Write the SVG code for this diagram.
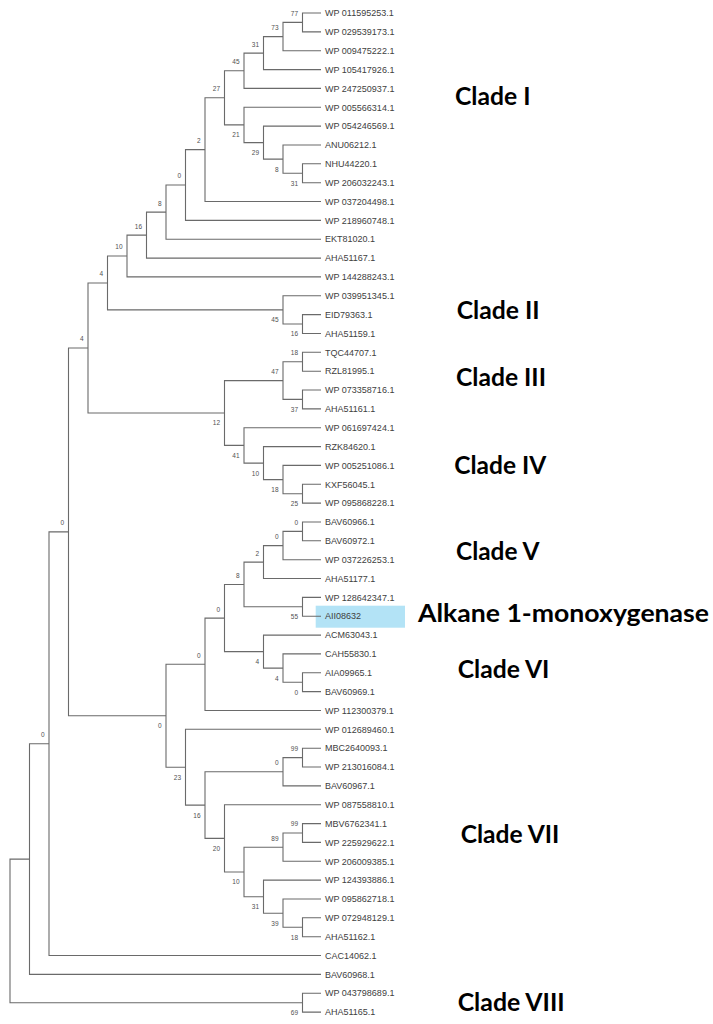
<svg xmlns="http://www.w3.org/2000/svg" width="713" height="1024" viewBox="0 0 713 1024">
<style>
.e{fill:none;stroke:#6a6a6a;stroke-width:1.1}
.lf{font-family:"Liberation Sans",Arial,sans-serif;font-size:9px;fill:#404040}
.bs{font-family:"Liberation Sans",Arial,sans-serif;font-size:6.5px;fill:#505050;text-anchor:end}
.cl{font-family:Lato,"Open Sans","Liberation Sans",sans-serif;font-weight:bold;font-size:24.4px;fill:#000}
</style>
<rect width="713" height="1024" fill="#fff"/>
<g id="highlight"><rect x="315.7" y="605.7" width="89.3" height="22" fill="#b3e3f6"/></g>
<g id="connectors">
<path class="e" d="M321,13 H302.5 V31.9 H321"/>
<path class="e" d="M302.5,22.4 H283 V50.7 H321"/>
<path class="e" d="M283,36.6 H263.5 V69.6 H321"/>
<path class="e" d="M263.5,53.1 H244 V88.4 H321"/>
<path class="e" d="M321,163.8 H302.5 V182.7 H321"/>
<path class="e" d="M321,145 H283 V173.2 H302.5"/>
<path class="e" d="M321,126.1 H263.5 V159.1 H283"/>
<path class="e" d="M321,107.3 H244 V142.6 H263.5"/>
<path class="e" d="M244,70.7 H224.5 V124.9 H244"/>
<path class="e" d="M224.5,97.8 H205 V201.5 H321"/>
<path class="e" d="M205,149.6 H185.5 V220.4 H321"/>
<path class="e" d="M185.5,185 H166 V239.2 H321"/>
<path class="e" d="M166,212.1 H146.5 V258.1 H321"/>
<path class="e" d="M146.5,235.1 H127 V276.9 H321"/>
<path class="e" d="M321,314.6 H302.5 V333.5 H321"/>
<path class="e" d="M321,295.8 H283 V324 H302.5"/>
<path class="e" d="M127,256 H107.5 V309.9 H283"/>
<path class="e" d="M321,352.3 H302.5 V371.2 H321"/>
<path class="e" d="M321,390 H302.5 V408.9 H321"/>
<path class="e" d="M302.5,361.7 H283 V399.4 H302.5"/>
<path class="e" d="M321,484.3 H302.5 V503.1 H321"/>
<path class="e" d="M321,465.4 H283 V493.7 H302.5"/>
<path class="e" d="M321,446.6 H263.5 V479.6 H283"/>
<path class="e" d="M321,427.7 H244 V463.1 H263.5"/>
<path class="e" d="M283,380.6 H224.5 V445.4 H244"/>
<path class="e" d="M107.5,283 H88 V413 H224.5"/>
<path class="e" d="M321,522 H302.5 V540.8 H321"/>
<path class="e" d="M302.5,531.4 H283 V559.7 H321"/>
<path class="e" d="M283,545.6 H263.5 V578.5 H321"/>
<path class="e" d="M321,597.4 H302.5 V616.2 H321"/>
<path class="e" d="M263.5,562.1 H244 V606.8 H302.5"/>
<path class="e" d="M321,672.8 H302.5 V691.6 H321"/>
<path class="e" d="M321,653.9 H283 V682.2 H302.5"/>
<path class="e" d="M321,635.1 H263.5 V668.1 H283"/>
<path class="e" d="M244,584.5 H224.5 V651.6 H263.5"/>
<path class="e" d="M224.5,618.1 H205 V710.5 H321"/>
<path class="e" d="M321,748.2 H302.5 V767 H321"/>
<path class="e" d="M302.5,757.6 H283 V785.9 H321"/>
<path class="e" d="M321,823.6 H302.5 V842.4 H321"/>
<path class="e" d="M302.5,833 H283 V861.3 H321"/>
<path class="e" d="M321,917.8 H302.5 V936.7 H321"/>
<path class="e" d="M321,899 H283 V927.3 H302.5"/>
<path class="e" d="M321,880.1 H263.5 V913.2 H283"/>
<path class="e" d="M283,847.2 H244 V896.7 H263.5"/>
<path class="e" d="M321,804.7 H224.5 V872 H244"/>
<path class="e" d="M283,771.8 H205 V838.4 H224.5"/>
<path class="e" d="M321,729.3 H185.5 V805.1 H205"/>
<path class="e" d="M205,664.3 H166 V767.2 H185.5"/>
<path class="e" d="M88,348 H68.5 V715.8 H166"/>
<path class="e" d="M68.5,531.9 H49 V955.5 H321"/>
<path class="e" d="M49,743.7 H29.5 V974.4 H321"/>
<path class="e" d="M321,993.2 H302.5 V1012.1 H321"/>
<path class="e" d="M29.5,859.1 H10 V1002.7 H302.5"/>
</g>
<g id="leaves">
<g id="L1"><text class="lf" x="325" y="16.2">WP 011595253.1</text></g>
<g id="L2"><text class="lf" x="325" y="35.1">WP 029539173.1</text></g>
<g id="L3"><text class="lf" x="325" y="53.9">WP 009475222.1</text></g>
<g id="L4"><text class="lf" x="325" y="72.8">WP 105417926.1</text></g>
<g id="L5"><text class="lf" x="325" y="91.6">WP 247250937.1</text></g>
<g id="L6"><text class="lf" x="325" y="110.5">WP 005566314.1</text></g>
<g id="L7"><text class="lf" x="325" y="129.3">WP 054246569.1</text></g>
<g id="L8"><text class="lf" x="325" y="148.2">ANU06212.1</text></g>
<g id="L9"><text class="lf" x="325" y="167">NHU44220.1</text></g>
<g id="L10"><text class="lf" x="325" y="185.9">WP 206032243.1</text></g>
<g id="L11"><text class="lf" x="325" y="204.7">WP 037204498.1</text></g>
<g id="L12"><text class="lf" x="325" y="223.6">WP 218960748.1</text></g>
<g id="L13"><text class="lf" x="325" y="242.4">EKT81020.1</text></g>
<g id="L14"><text class="lf" x="325" y="261.3">AHA51167.1</text></g>
<g id="L15"><text class="lf" x="325" y="280.1">WP 144288243.1</text></g>
<g id="L16"><text class="lf" x="325" y="299">WP 039951345.1</text></g>
<g id="L17"><text class="lf" x="325" y="317.8">EID79363.1</text></g>
<g id="L18"><text class="lf" x="325" y="336.7">AHA51159.1</text></g>
<g id="L19"><text class="lf" x="325" y="355.5">TQC44707.1</text></g>
<g id="L20"><text class="lf" x="325" y="374.4">RZL81995.1</text></g>
<g id="L21"><text class="lf" x="325" y="393.2">WP 073358716.1</text></g>
<g id="L22"><text class="lf" x="325" y="412.1">AHA51161.1</text></g>
<g id="L23"><text class="lf" x="325" y="430.9">WP 061697424.1</text></g>
<g id="L24"><text class="lf" x="325" y="449.8">RZK84620.1</text></g>
<g id="L25"><text class="lf" x="325" y="468.6">WP 005251086.1</text></g>
<g id="L26"><text class="lf" x="325" y="487.5">KXF56045.1</text></g>
<g id="L27"><text class="lf" x="325" y="506.3">WP 095868228.1</text></g>
<g id="L28"><text class="lf" x="325" y="525.2">BAV60966.1</text></g>
<g id="L29"><text class="lf" x="325" y="544">BAV60972.1</text></g>
<g id="L30"><text class="lf" x="325" y="562.9">WP 037226253.1</text></g>
<g id="L31"><text class="lf" x="325" y="581.7">AHA51177.1</text></g>
<g id="L32"><text class="lf" x="325" y="600.6">WP 128642347.1</text></g>
<g id="L33"><text class="lf" x="325" y="619.4">AII08632</text></g>
<g id="L34"><text class="lf" x="325" y="638.3">ACM63043.1</text></g>
<g id="L35"><text class="lf" x="325" y="657.1">CAH55830.1</text></g>
<g id="L36"><text class="lf" x="325" y="676">AIA09965.1</text></g>
<g id="L37"><text class="lf" x="325" y="694.8">BAV60969.1</text></g>
<g id="L38"><text class="lf" x="325" y="713.7">WP 112300379.1</text></g>
<g id="L39"><text class="lf" x="325" y="732.5">WP 012689460.1</text></g>
<g id="L40"><text class="lf" x="325" y="751.4">MBC2640093.1</text></g>
<g id="L41"><text class="lf" x="325" y="770.2">WP 213016084.1</text></g>
<g id="L42"><text class="lf" x="325" y="789.1">BAV60967.1</text></g>
<g id="L43"><text class="lf" x="325" y="807.9">WP 087558810.1</text></g>
<g id="L44"><text class="lf" x="325" y="826.8">MBV6762341.1</text></g>
<g id="L45"><text class="lf" x="325" y="845.6">WP 225929622.1</text></g>
<g id="L46"><text class="lf" x="325" y="864.5">WP 206009385.1</text></g>
<g id="L47"><text class="lf" x="325" y="883.3">WP 124393886.1</text></g>
<g id="L48"><text class="lf" x="325" y="902.2">WP 095862718.1</text></g>
<g id="L49"><text class="lf" x="325" y="921">WP 072948129.1</text></g>
<g id="L50"><text class="lf" x="325" y="939.9">AHA51162.1</text></g>
<g id="L51"><text class="lf" x="325" y="958.7">CAC14062.1</text></g>
<g id="L52"><text class="lf" x="325" y="977.6">BAV60968.1</text></g>
<g id="L53"><text class="lf" x="325" y="996.4">WP 043798689.1</text></g>
<g id="L54"><text class="lf" x="325" y="1015.3">AHA51165.1</text></g>
</g>
<g id="internal-nodes">
<g id="n77"><text class="bs" x="298" y="15.8">77</text></g>
<g id="n73"><text class="bs" x="278.5" y="30">73</text></g>
<g id="n31a"><text class="bs" x="259" y="46.5">31</text></g>
<g id="n45a"><text class="bs" x="239.5" y="64.1">45</text></g>
<g id="n27"><text class="bs" x="220" y="91.2">27</text></g>
<g id="n21"><text class="bs" x="239.5" y="137.3">21</text></g>
<g id="n29"><text class="bs" x="259" y="155">29</text></g>
<g id="n8a"><text class="bs" x="278.5" y="171.5">8</text></g>
<g id="n31b"><text class="bs" x="298" y="185.6">31</text></g>
<g id="n2a"><text class="bs" x="200.5" y="143">2</text></g>
<g id="n0a"><text class="bs" x="181" y="178.4">0</text></g>
<g id="n8b"><text class="bs" x="161.5" y="205.5">8</text></g>
<g id="n16a"><text class="bs" x="142" y="228.5">16</text></g>
<g id="n10a"><text class="bs" x="122.5" y="249.4">10</text></g>
<g id="n45b"><text class="bs" x="278.5" y="322.3">45</text></g>
<g id="n16b"><text class="bs" x="298" y="336.4">16</text></g>
<g id="n4a"><text class="bs" x="103" y="276.4">4</text></g>
<g id="n18a"><text class="bs" x="298" y="355.1">18</text></g>
<g id="n37"><text class="bs" x="298" y="411.8">37</text></g>
<g id="n47"><text class="bs" x="278.5" y="374">47</text></g>
<g id="n41"><text class="bs" x="239.5" y="457.8">41</text></g>
<g id="n10b"><text class="bs" x="259" y="475.5">10</text></g>
<g id="n18b"><text class="bs" x="278.5" y="492">18</text></g>
<g id="n25"><text class="bs" x="298" y="506.1">25</text></g>
<g id="n12"><text class="bs" x="220" y="425.4">12</text></g>
<g id="n4b"><text class="bs" x="83.5" y="341.4">4</text></g>
<g id="n0b"><text class="bs" x="298" y="524.8">0</text></g>
<g id="n0c"><text class="bs" x="278.5" y="539">0</text></g>
<g id="n2b"><text class="bs" x="259" y="555.5">2</text></g>
<g id="n55"><text class="bs" x="298" y="619.2">55</text></g>
<g id="n8c"><text class="bs" x="239.5" y="577.9">8</text></g>
<g id="n0e"><text class="bs" x="298" y="694.6">0</text></g>
<g id="n4c"><text class="bs" x="278.5" y="680.5">4</text></g>
<g id="n4d"><text class="bs" x="259" y="664">4</text></g>
<g id="n0f"><text class="bs" x="220" y="611.5">0</text></g>
<g id="n0g"><text class="bs" x="200.5" y="657.7">0</text></g>
<g id="n99a"><text class="bs" x="298" y="751">99</text></g>
<g id="n0h"><text class="bs" x="278.5" y="765.2">0</text></g>
<g id="n99b"><text class="bs" x="298" y="826.4">99</text></g>
<g id="n89"><text class="bs" x="278.5" y="840.6">89</text></g>
<g id="n18c"><text class="bs" x="298" y="939.7">18</text></g>
<g id="n39"><text class="bs" x="278.5" y="925.6">39</text></g>
<g id="n31c"><text class="bs" x="259" y="909.1">31</text></g>
<g id="n10c"><text class="bs" x="239.5" y="884.4">10</text></g>
<g id="n20"><text class="bs" x="220" y="850.8">20</text></g>
<g id="n16c"><text class="bs" x="200.5" y="817.5">16</text></g>
<g id="n23"><text class="bs" x="181" y="779.6">23</text></g>
<g id="n0i"><text class="bs" x="161.5" y="728.2">0</text></g>
<g id="n0j"><text class="bs" x="64" y="525.3">0</text></g>
<g id="n0k"><text class="bs" x="44.5" y="737.1">0</text></g>
<g id="n69"><text class="bs" x="298" y="1015.1">69</text></g>
</g>
<g id="clade-labels">
<g id="cladeI"><text class="cl" x="455" y="105" textLength="75.5" lengthAdjust="spacingAndGlyphs">Clade I</text></g>
<g id="cladeII"><text class="cl" x="456.7" y="319.3" textLength="83" lengthAdjust="spacingAndGlyphs">Clade II</text></g>
<g id="cladeIII"><text class="cl" x="456" y="386" textLength="90" lengthAdjust="spacingAndGlyphs">Clade III</text></g>
<g id="cladeIV"><text class="cl" x="454.3" y="474.3" textLength="92" lengthAdjust="spacingAndGlyphs">Clade IV</text></g>
<g id="cladeV"><text class="cl" x="456" y="560" textLength="83.5" lengthAdjust="spacingAndGlyphs">Clade V</text></g>
<g id="alkane"><text class="cl" x="418" y="622" textLength="291" lengthAdjust="spacingAndGlyphs">Alkane 1-monoxygenase</text></g>
<g id="cladeVI"><text class="cl" x="457.7" y="677.7" textLength="91.7" lengthAdjust="spacingAndGlyphs">Clade VI</text></g>
<g id="cladeVII"><text class="cl" x="460.7" y="843.3" textLength="98.7" lengthAdjust="spacingAndGlyphs">Clade VII</text></g>
<g id="cladeVIII"><text class="cl" x="457.7" y="1010.7" textLength="107" lengthAdjust="spacingAndGlyphs">Clade VIII</text></g>
</g>
</svg>
